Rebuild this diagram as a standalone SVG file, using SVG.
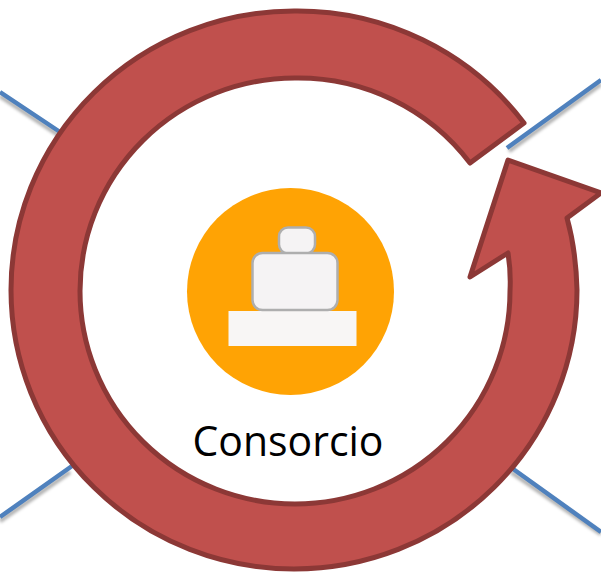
<svg xmlns="http://www.w3.org/2000/svg" width="601" height="572" viewBox="0 0 601 572">
<defs>
<style>
.link{fill:none;stroke:#4f81bd;stroke-width:4.5}
.shadow{fill:none;stroke:#000;stroke-opacity:.3;stroke-width:4.5;filter:url(#blur)}
.box{fill:#f5f3f4;stroke:#aeaeae;stroke-width:2.5}
</style>
<filter id="blur" x="-20%" y="-20%" width="140%" height="140%"><feGaussianBlur stdDeviation="1.8"/></filter>
</defs>
<rect width="601" height="572" fill="#fff"/>
<g id="connectors">
<path class="shadow" d="M0 96 L60 136M601 84 L509 151M0 521 L70 472M511 472 L601 534"/>
<path class="link" d="M0 92 L60 132M601 80 L507 148M0 517 L72 466M509 466 L601 532"/>
</g>
<g id="arrow">
<path d="M524 123 A283 279 0 0 0 294 11 A283 279 0 0 0 11 290 A283 279 0 0 0 294 569 A283 279 0 0 0 577 290 Q576 250 567 218 L601 193 L508 160 L470 277 L508 253 Q511 272 510 291 A215 213 0 0 1 295 504 A215 213 0 0 1 80 291 A215 213 0 0 1 295 78 A215 213 0 0 1 470 163 Z" fill="#c0504d" stroke="#8c3836" stroke-width="5" stroke-linejoin="round"/>
</g>
<g id="consorcio">
<circle cx="290.500" cy="291.500" r="103.500" fill="#ffa304"/>
<rect x="228.500" y="311" width="128" height="35" fill="#f8f6f5"/>
<rect class="box" x="279" y="227.500" width="36" height="26" rx="9"/>
<rect class="box" x="252.500" y="253" width="85" height="57" rx="10"/>
<text x="288" y="456" font-family="'Open Sans','Noto Sans',sans-serif" font-size="42" text-anchor="middle" textLength="191" lengthAdjust="spacingAndGlyphs" fill="#000">Consorcio</text>
</g>
</svg>
